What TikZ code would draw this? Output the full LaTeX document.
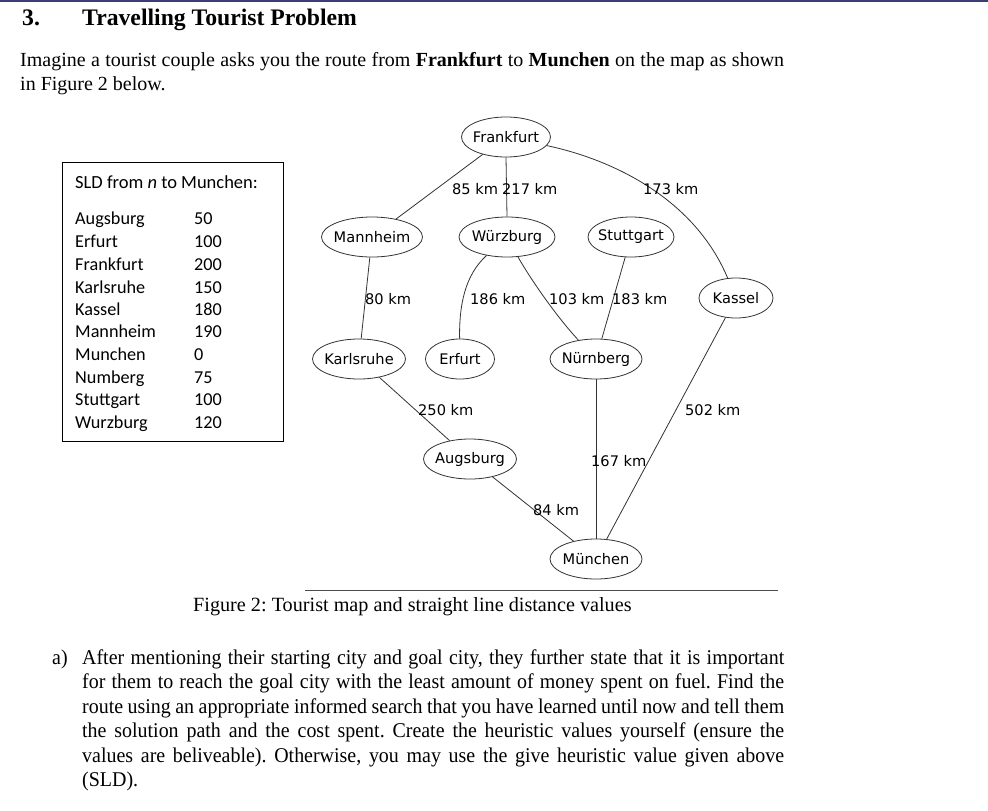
\documentclass[tikz,border=0pt]{standalone}
\usepackage{fontspec}
\setmainfont{Liberation Serif}
\newfontfamily\tablefont{Carlito}
\newfontfamily\mapfont{DejaVu Sans}
\newfontfamily\narrowfont[FakeStretch=0.95]{Liberation Serif}
\usetikzlibrary{shapes.geometric}
\definecolor{topblue}{RGB}{58,62,120}
\colorlet{mapgray}{black!80}
\newcommand{\bodysize}{\fontsize{20}{24.5}\selectfont}
\newcommand{\mapsize}{\mapfont\fontsize{14.6}{16}\selectfont}
\frenchspacing

\begin{document}
\begin{tikzpicture}[x=1pt,y=-1pt,
    txt/.style={anchor=base west,inner sep=0pt},
    city/.style={ellipse,draw=mapgray,line width=0.8pt,inner xsep=-10pt,inner ysep=0pt,minimum height=40pt,font=\mapsize},
    km/.style={anchor=west,inner sep=0pt,font=\mapsize},
    road/.style={draw=mapgray,line width=0.8pt},
    qline/.style={txt,font=\narrowfont\fontsize{21}{24.5}\selectfont}]

  \useasboundingbox[fill=white] (0,0) rectangle (988,811);
  \fill[topblue] (0,0) rectangle (988,2);

  % heading and intro
  \draw (22,25) node[txt,font=\fontsize{23.7}{28}\selectfont\bfseries] {3.};
  \draw (82,25) node[txt,font=\fontsize{23.7}{28}\selectfont\bfseries] {Travelling Tourist Problem};
  \draw (20,66) node[txt,font=\bodysize] {\makebox[764pt][s]{Imagine a tourist couple asks you the route from \textbf{Frankfurt} to \textbf{Munchen} on the map as shown}};
  \draw (20,90) node[txt,font=\bodysize] {in Figure 2 below.};

  % SLD table
  \draw[line width=0.9pt] (62,162) rectangle (283,441);
  \draw (75,188) node[txt,font=\tablefont\fontsize{18.5}{22}\selectfont] {SLD from \textit{n} to Munchen:};
  \begin{scope}[every node/.style={txt,font=\tablefont\fontsize{18.2}{22}\selectfont}]
    \draw (75,224) node {Augsburg};   \draw (194,224) node {50};
    \draw (75,247) node {Erfurt};     \draw (194,247) node {100};
    \draw (75,270) node {Frankfurt};  \draw (194,270) node {200};
    \draw (75,293) node {Karlsruhe};  \draw (194,293) node {150};
    \draw (75,315) node {Kassel};     \draw (194,315) node {180};
    \draw (75,337) node {Mannheim};   \draw (194,337) node {190};
    \draw (75,360) node {Munchen};    \draw (194,360) node {0};
    \draw (75,383) node {Numberg};    \draw (194,383) node {75};
    \draw (75,405) node {Stuttgart};  \draw (194,405) node {100};
    \draw (75,428) node {Wurzburg};   \draw (194,428) node {120};
  \end{scope}

  % map
  \node[city,minimum width=89pt]  (fra) at (506,137) {Frankfurt};
  \node[city,minimum width=101pt] (man) at (372,237) {Mannheim};
  \node[city,minimum width=96pt]  (wur) at (507,237) {Würzburg};
  \node[city,minimum width=86pt]  (stu) at (631,237) {Stuttgart};
  \node[city,minimum width=74pt]  (kas) at (736,298) {Kassel};
  \node[city,minimum width=93pt]  (kar) at (359,359) {Karlsruhe};
  \node[city,minimum width=69pt]  (erf) at (460,359) {Erfurt};
  \node[city,minimum width=92pt]  (nur) at (596,359) {Nürnberg};
  \node[city,minimum width=93pt]  (aug) at (470,459) {Augsburg};
  \node[city,minimum width=92pt]  (mun) at (596,559) {München};

  \draw[road] (fra) -- (man);
  \draw[road] (fra.south) -- (wur.north);
  \draw[road] (fra) .. controls (615,160) and (695,200) .. (kas);
  \draw[road] (man) -- (kar);
  \draw[road] (wur) .. controls (465,275) and (459,305) .. (erf);
  \draw[road] (wur) .. controls (528,275) and (555,315) .. (nur);
  \draw[road] (stu) -- (nur);
  \draw[road] (kar) -- (aug);
  \draw[road] (nur) -- (mun);
  \draw[road] (kas) -- (mun);
  \draw[road] (aug) -- (mun);

  \draw (452,189) node[km] {85 km};
  \draw (502,189) node[km] {217 km};
  \draw (643,189) node[km] {173 km};
  \draw (365,299) node[km] {80 km};
  \draw (470,299) node[km] {186 km};
  \draw (549,299) node[km] {103 km};
  \draw (612,299) node[km] {183 km};
  \draw (418,410) node[km] {250 km};
  \draw (685,410) node[km] {502 km};
  \draw (591,461) node[km] {167 km};
  \draw (533,510) node[km] {84 km};

  % caption
  \draw[line width=1pt,black!70] (305,590) -- (778,590);
  \draw (193,611) node[txt,font=\fontsize{20.2}{24.5}\selectfont] {Figure 2: Tourist map and straight line distance values};

  % question a)
  \draw (52,664) node[qline] {a)};
  \draw (82,664) node[qline] {\makebox[702pt][s]{After mentioning their starting city and goal city, they further state that it is important}};
  \draw (82,688.5) node[qline] {\makebox[702pt][s]{for them to reach the goal city with the least amount of money spent on fuel. Find the}};
  \draw (82,713) node[qline] {\makebox[702pt][s]{route using an appropriate informed search that you have learned until now and tell them}};
  \draw (82,737.5) node[qline] {\makebox[702pt][s]{the solution path and the cost spent. Create the heuristic values yourself (ensure the}};
  \draw (82,762) node[qline] {\makebox[702pt][s]{values are beliveable). Otherwise, you may use the give heuristic value given above}};
  \draw (82,786.5) node[qline] {(SLD).};

\end{tikzpicture}
\end{document}
